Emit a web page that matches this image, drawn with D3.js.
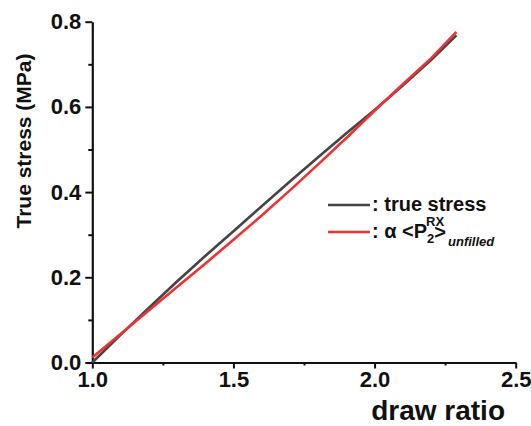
<!DOCTYPE html>
<html>
<head>
<meta charset="utf-8">
<script src="https://cdn.jsdelivr.net/npm/d3@7"></script>
<style>
  html, body { margin: 0; padding: 0; background: #fff; }
  svg text { font-family: "Liberation Sans", Arial, sans-serif; fill: #111; }
</style>
</head>
<body>
<svg id="chart"></svg>
<script>
// true stress vs draw ratio, with scaled orientation order parameter overlay

const drawRatio   = [1.0, 1.1, 1.2, 1.3, 1.4, 1.5, 1.6, 1.7, 1.8, 1.9, 2.0, 2.1, 2.2, 2.29];
const trueStress  = [0.0, 0.065, 0.128, 0.19, 0.25, 0.308, 0.367, 0.425, 0.482, 0.538, 0.593, 0.65, 0.71, 0.768];
const p2Unfilled  = [0.012, 0.067, 0.122, 0.177, 0.232, 0.288, 0.345, 0.404, 0.465, 0.527, 0.591, 0.653, 0.714, 0.776];

const xTicks = [1.0, 1.5, 2.0, 2.5];
const xMinor = [1.25, 1.75, 2.25];
const yTicks = [0.0, 0.2, 0.4, 0.6, 0.8];
const yMinor = [0.1, 0.3, 0.5, 0.7];

const W = 531, H = 426;
const svg = d3.select('#chart').attr('width', W).attr('height', H);

const x = d3.scaleLinear().domain([1.0, 2.5]).range([92.3, 515.7]);
const y = d3.scaleLinear().domain([0, 0.8]).range([362.5, 21.7]);

// ── Axes ──────────────────────────────────────────────────────────────
svg.append('g').attr('transform', `translate(0,${y(0)})`)
    .call(d3.axisBottom(x).tickValues(xTicks).tickFormat(d3.format('.1f'))
        .tickSize(6).tickSizeOuter(0).tickPadding(3));
svg.append('g').attr('transform', `translate(0,${y(0)})`)
    .call(d3.axisBottom(x).tickValues(xMinor).tickFormat('').tickSize(3).tickSizeOuter(0))
    .select('.domain').remove();

svg.append('g').attr('transform', `translate(${x(1)},0)`)
    .call(d3.axisLeft(y).tickValues(yTicks).tickFormat(d3.format('.1f'))
        .tickSize(7).tickSizeOuter(0).tickPadding(4));
svg.append('g').attr('transform', `translate(${x(1)},0)`)
    .call(d3.axisLeft(y).tickValues(yMinor).tickFormat('').tickSize(4).tickSizeOuter(0))
    .select('.domain').remove();

svg.selectAll('.domain').attr('stroke', '#111').attr('stroke-width', 2.2);
svg.selectAll('.tick line').attr('stroke', '#111').attr('stroke-width', 2);
svg.selectAll('.tick text')
    .attr('font-size', '22px').attr('font-weight', 'bold')
    .attr('font-family', '"Liberation Sans", Arial, sans-serif').attr('fill', '#111');

// Axis titles
svg.append('text')
    .attr('x', 505).attr('y', 420)
    .attr('text-anchor', 'end')
    .attr('font-size', '28px').attr('font-weight', 'bold')
    .text('draw ratio');

svg.append('text')
    .attr('transform', 'translate(31,141) rotate(-90)')
    .attr('text-anchor', 'middle')
    .attr('font-size', '21px').attr('font-weight', 'bold')
    .text('True stress (MPa)');

// ── Lines ─────────────────────────────────────────────────────────────
const line = d3.line().x(d => x(d[0])).y(d => y(d[1]));

svg.append('path')
    .datum(drawRatio.map((d, i) => [d, trueStress[i]]))
    .attr('fill', 'none').attr('stroke', '#444').attr('stroke-width', 2.6)
    .attr('d', line);

svg.append('path')
    .datum(drawRatio.map((d, i) => [d, p2Unfilled[i]]))
    .attr('fill', 'none').attr('stroke', '#f23030').attr('stroke-width', 2.6)
    .attr('d', line);

// ── Legend ────────────────────────────────────────────────────────────
const lg = svg.append('g');
lg.append('line').attr('x1', 328).attr('x2', 370).attr('y1', 205).attr('y2', 205)
    .attr('stroke', '#444').attr('stroke-width', 2.6);
lg.append('text').attr('x', 372).attr('y', 211)
    .attr('font-size', '20px').attr('font-weight', 'bold')
    .text(': true stress');

lg.append('line').attr('x1', 328).attr('x2', 370).attr('y1', 232).attr('y2', 232)
    .attr('stroke', '#f23030').attr('stroke-width', 2.6);

const main = lg.append('text').attr('x', 372).attr('y', 238)
    .attr('font-size', '20px').attr('font-weight', 'bold')
    .text(': \u03b1 <P');
const pEnd = 372 + main.node().getComputedTextLength();

const sub2 = lg.append('text').attr('x', pEnd).attr('y', 243)
    .attr('font-size', '13px').attr('font-weight', 'bold').text('2');
lg.append('text').attr('x', pEnd - 1).attr('y', 226)
    .attr('font-size', '13px').attr('font-weight', 'bold').text('RX');
const subEnd = pEnd + sub2.node().getComputedTextLength();

const gt = lg.append('text').attr('x', subEnd).attr('y', 239)
    .attr('font-size', '20px').attr('font-weight', 'bold').text('>');
const gtEnd = subEnd + gt.node().getComputedTextLength();

lg.append('text').attr('x', gtEnd + 2).attr('y', 246)
    .attr('font-size', '13px').attr('font-weight', 'bold').attr('font-style', 'italic')
    .text('unfilled');
</script>
</body>
</html>
